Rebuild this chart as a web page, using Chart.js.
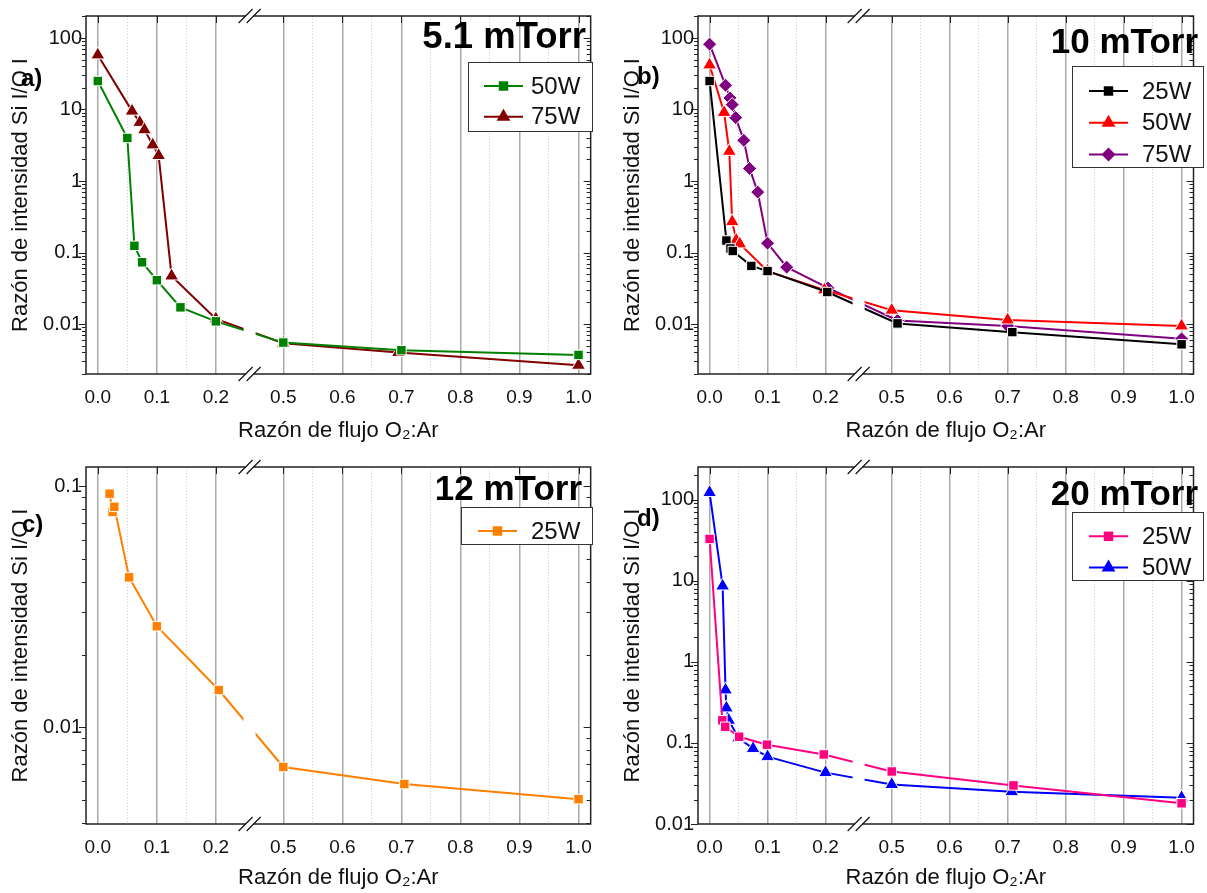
<!DOCTYPE html>
<html>
<head>
<meta charset="utf-8">
<script src="https://cdn.jsdelivr.net/npm/chart.js@4.4.1/dist/chart.umd.min.js"></script>
<style>
  body { margin: 0; background: #fff; width: 1207px; height: 893px; overflow: hidden; position: relative; }
  canvas { position: absolute; }
</style>
</head>
<body>
<canvas id="pa" width="604" height="446" style="left:0;top:0"></canvas>
<canvas id="pb" width="595" height="446" style="left:612px;top:0"></canvas>
<canvas id="pc" width="604" height="447" style="left:0;top:446px"></canvas>
<canvas id="pd" width="595" height="447" style="left:612px;top:446px"></canvas>
<script>
// x axis ticks (broken between 0.2 and 0.5)
const X_MAJOR = [0, 0.1, 0.2, 0.5, 0.6, 0.7, 0.8, 0.9, 1.0];
const X_MINOR = [0.05, 0.15, 0.55, 0.65, 0.75, 0.85, 0.95];

// a) 5.1 mTorr
const a50x = [0, 0.05, 0.062, 0.075, 0.1, 0.14, 0.2, 0.5, 0.7, 1.0];
const a50y = [25, 4.0, 0.124, 0.073, 0.041, 0.0171, 0.0109, 0.0055, 0.0043, 0.0037];
const a75x = [0, 0.058, 0.071, 0.079, 0.093, 0.103, 0.125, 0.2, 0.5, 0.695, 1.0];
const a75y = [58, 9.5, 6.6, 5.2, 3.2, 2.27, 0.047, 0.0118, 0.0054, 0.0040, 0.00265];

// b) 10 mTorr
const b25x = [0, 0.029, 0.036, 0.04, 0.072, 0.1, 0.203, 0.51, 0.708, 1.0];
const b25y = [25, 0.147, 0.114, 0.105, 0.065, 0.055, 0.028, 0.0102, 0.0077, 0.0052];
const b50x = [0, 0.025, 0.034, 0.039, 0.046, 0.052, 0.1, 0.198, 0.5, 0.7, 1.0];
const b50y = [42, 9.1, 2.6, 0.27, 0.149, 0.132, 0.055, 0.030, 0.0156, 0.0114, 0.0094];
const b75x = [0, 0.0275, 0.035, 0.039, 0.045, 0.059, 0.069, 0.083, 0.1, 0.133, 0.204, 0.51, 0.7, 1.0];
const b75y = [82, 21.8, 14.5, 11.7, 7.7, 3.7, 1.5, 0.70, 0.135, 0.0624, 0.032, 0.0112, 0.0094, 0.0062];

// c) 12 mTorr
const c25x = [0.02, 0.025, 0.028, 0.053, 0.1, 0.205, 0.5, 0.705, 1.0];
const c25y = [0.093, 0.078, 0.082, 0.0418, 0.0262, 0.01425, 0.00683, 0.0058, 0.00502];

// d) 20 mTorr
const d25x = [0, 0.022, 0.027, 0.051, 0.099, 0.197, 0.5, 0.71, 1.0];
const d25y = [32.7, 0.19, 0.158, 0.119, 0.095, 0.072, 0.0444, 0.0299, 0.018];
const d50x = [0, 0.0225, 0.0275, 0.029, 0.033, 0.05, 0.075, 0.1, 0.2, 0.5, 0.707, 1.0];
const d50y = [122, 8.6, 0.45, 0.27, 0.19, 0.115, 0.085, 0.0676, 0.043, 0.0307, 0.025, 0.0211];

const FONT = "'Liberation Sans', Arial, sans-serif";
const CUT = 0.1858; // piece of the x axis left out by the break

function toAxis(v) { return v > 0.35 ? v - CUT : v; }
function fromAxis(d) { return d > 0.258 ? d + CUT : d; }

// linear scale with a gap between 0.2 and 0.5
class BrokenScale extends Chart.LinearScale {
  determineDataLimits() {
    this.min = toAxis(-0.02);
    this.max = toAxis(1.0206);
  }
  buildTicks() {
    const t = X_MAJOR.map(v => ({ value: v }));
    X_MINOR.forEach(v => t.push({ value: v, minor: true }));
    return t.sort((p, q) => p.value - q.value);
  }
  getPixelForValue(v) { return super.getPixelForValue(toAxis(v)); }
  getValueForPixel(p) { return fromAxis(super.getValueForPixel(p)); }
}
BrokenScale.id = 'broken';
BrokenScale.defaults = Chart.LinearScale.defaults;
Chart.register(BrokenScale);

function pts(xs, ys) { return xs.map((x, i) => ({ x: x, y: ys[i] })); }

const deco = {
  id: 'deco',
  afterDatasetsDraw(chart, args, o) {
    const { ctx, chartArea: a, scales: { x, y } } = chart;
    const bx = (x.getPixelForValue(0.2) + x.getPixelForValue(0.5)) / 2;
    ctx.save();
    // white band at the break
    ctx.fillStyle = '#fff';
    ctx.fillRect(bx - 6, a.top, 12, a.bottom - a.top);

    // frame
    ctx.strokeStyle = '#222';
    ctx.lineWidth = 1.5;
    ctx.strokeRect(a.left, a.top, a.right - a.left, a.bottom - a.top);

    // log ticks left (out) and right (in)
    ctx.lineWidth = 1;
    const e0 = Math.floor(Math.log10(y.min)), e1 = Math.ceil(Math.log10(y.max));
    ctx.beginPath();
    for (let e = e0; e <= e1; e++) {
      for (let m = 1; m <= 9; m++) {
        const v = m * Math.pow(10, e);
        if (v < y.min || v > y.max) continue;
        const py = Math.round(y.getPixelForValue(v)) + 0.5;
        const len = m === 1 ? 7 : 4;
        ctx.moveTo(a.left - len, py); ctx.lineTo(a.left, py);
        ctx.moveTo(a.right - len, py); ctx.lineTo(a.right, py);
      }
    }
    // top ticks (in)
    X_MAJOR.forEach(v => {
      const px = Math.round(x.getPixelForValue(v)) + 0.5;
      ctx.moveTo(px, a.top); ctx.lineTo(px, a.top + 7);
    });
    ctx.stroke();

    // break marks
    [a.top, a.bottom].forEach(yy => {
      ctx.fillStyle = '#fff';
      ctx.fillRect(bx - 4, yy - 2, 8, 4);
      ctx.strokeStyle = '#111';
      ctx.lineWidth = 1.2;
      ctx.beginPath();
      [-4, 4].forEach(k => {
        ctx.moveTo(bx + k - 7, yy + 7);
        ctx.lineTo(bx + k + 7, yy - 7);
      });
      ctx.stroke();
    });

    // legend
    const L = o.legend;
    ctx.fillStyle = '#fff';
    ctx.fillRect(L.x, L.y, L.w, L.h);
    ctx.strokeStyle = '#333';
    ctx.lineWidth = 1;
    ctx.strokeRect(L.x + 0.5, L.y + 0.5, L.w, L.h);
    chart.data.datasets.forEach((ds, i) => {
      const cy = L.y + L.first + i * L.step;
      ctx.strokeStyle = ds.borderColor;
      ctx.lineWidth = 2;
      ctx.beginPath();
      ctx.moveTo(L.x + L.lx, cy); ctx.lineTo(L.x + L.lx + 39, cy);
      ctx.stroke();
      ctx.fillStyle = ds.backgroundColor;
      Chart.helpers.drawPoint(ctx, { pointStyle: ds.pointStyle, radius: ds.pointRadius, borderWidth: 0, rotation: 0 }, L.x + L.lx + 19.5, cy);
      ctx.fillStyle = '#111';
      ctx.font = '24px ' + FONT;
      ctx.textBaseline = 'middle';
      ctx.textAlign = 'left';
      ctx.fillText(ds.label, L.x + L.tx, cy + 1);
    });

    // pressure title and panel letter
    ctx.fillStyle = '#000';
    ctx.textBaseline = 'alphabetic';
    ctx.font = 'bold ' + o.ts + 'px ' + FONT;
    ctx.textAlign = 'right';
    ctx.fillText(o.title, o.tx, o.ty);
    ctx.font = 'bold 24px ' + FONT;
    ctx.textAlign = 'left';
    ctx.fillText(o.letter, o.lx, o.ly);
    ctx.restore();
  }
};

function decadeLabel(v) {
  const e = Math.log10(v);
  if (Math.abs(e - Math.round(e)) > 1e-6) return '';
  const n = Math.round(e);
  return n >= 0 ? String(Math.pow(10, n)) : Math.pow(10, n).toFixed(-n);
}

function makePanel(id, series, p) {
  new Chart(document.getElementById(id), {
    type: 'line',
    data: {
      datasets: series.map(s => ({
        label: s.label,
        data: pts(s.x, s.y),
        borderColor: s.color,
        backgroundColor: s.color,
        pointBackgroundColor: s.color,
        pointBorderColor: '#ffffff',
        pointBorderWidth: 1,
        pointStyle: s.style,
        pointRadius: s.r + 0.5,
        borderWidth: 2,
        tension: 0
      }))
    },
    options: {
      responsive: false,
      animation: false,
      layout: { padding: { left: 0, top: p.top, right: p.right, bottom: 0 } },
      plugins: {
        legend: { display: false },
        tooltip: { enabled: false },
        deco: p
      },
      scales: {
        x: {
          type: 'broken',
          afterFit: s => { s.height = p.xh; },
          border: { display: false, dash: c => (c.tick && c.tick.minor ? [1, 2] : []) },
          grid: {
            drawTicks: false,
            color: c => (c.tick && c.tick.minor ? '#cccccc' : '#aaaaaa'),
            lineWidth: c => (c.tick && c.tick.minor ? 1 : 1.5)
          },
          ticks: {
            autoSkip: false,
            maxRotation: 0,
            padding: 12,
            color: '#111',
            font: { family: FONT, size: 19 },
            callback: (v, i, t) => (t[i].minor ? '' : v.toFixed(1))
          },
          title: {
            display: true,
            text: 'Razón de flujo O₂:Ar',
            color: '#111',
            font: { family: FONT, size: 22 },
            padding: { top: 0, bottom: 2 }
          }
        },
        y: {
          type: 'logarithmic',
          min: p.ymin,
          max: p.ymax,
          afterFit: s => { s.width = 86; },
          border: { display: false },
          grid: { display: false, drawTicks: false },
          ticks: {
            autoSkip: false,
            padding: 4,
            color: '#111',
            font: { family: FONT, size: 20 },
            callback: v => decadeLabel(v)
          },
          title: {
            display: true,
            text: 'Razón de intensidad Si I/O I',
            color: '#111',
            font: { family: FONT, size: 22 },
            padding: { top: 8, bottom: 0 }
          }
        }
      }
    },
    plugins: [deco]
  });
}

makePanel('pa', [
  { label: '50W', x: a50x, y: a50y, color: '#008000', style: 'rect', r: 6.2 },
  { label: '75W', x: a75x, y: a75y, color: '#800000', style: 'triangle', r: 7.5 }
], {
  top: 16, right: 12, xh: 72, ymin: 0.002, ymax: 203,
  title: '5.1 mTorr', ts: 36.5, tx: 586, ty: 48, letter: 'a)', lx: 21, ly: 86,
  legend: { x: 468, y: 62, w: 124, h: 69, first: 24, step: 30.7, lx: 16, tx: 63 }
});

makePanel('pb', [
  { label: '25W', x: b25x, y: b25y, color: '#000000', style: 'rect', r: 6.2 },
  { label: '50W', x: b50x, y: b50y, color: '#ff0000', style: 'triangle', r: 7.5 },
  { label: '75W', x: b75x, y: b75y, color: '#800080', style: 'rectRot', r: 6.5 }
], {
  top: 16, right: 4, xh: 72, ymin: 0.002, ymax: 203,
  title: '10 mTorr', ts: 35, tx: 586, ty: 53, letter: 'b)', lx: 25, ly: 84,
  legend: { x: 460, y: 66, w: 131, h: 101, first: 25, step: 31.7, lx: 17, tx: 70 }
});

makePanel('pc', [
  { label: '25W', x: c25x, y: c25y, color: '#ff8000', style: 'rect', r: 6.2 }
], {
  top: 21, right: 12, xh: 69, ymin: 0.00396, ymax: 0.12,
  title: '12 mTorr', ts: 35, tx: 582, ty: 54, letter: 'c)', lx: 22, ly: 86,
  legend: { x: 461, y: 61, w: 131, h: 37, first: 24, step: 31, lx: 17, tx: 70 }
});

makePanel('pd', [
  { label: '25W', x: d25x, y: d25y, color: '#ff0080', style: 'rect', r: 6.2 },
  { label: '50W', x: d50x, y: d50y, color: '#0000ff', style: 'triangle', r: 7.5 }
], {
  top: 21, right: 4, xh: 69, ymin: 0.01, ymax: 252,
  title: '20 mTorr', ts: 35, tx: 586, ty: 59, letter: 'd)', lx: 25, ly: 80,
  legend: { x: 460, y: 66, w: 131, h: 68, first: 24.3, step: 31.3, lx: 17, tx: 70 }
});
</script>
</body>
</html>
